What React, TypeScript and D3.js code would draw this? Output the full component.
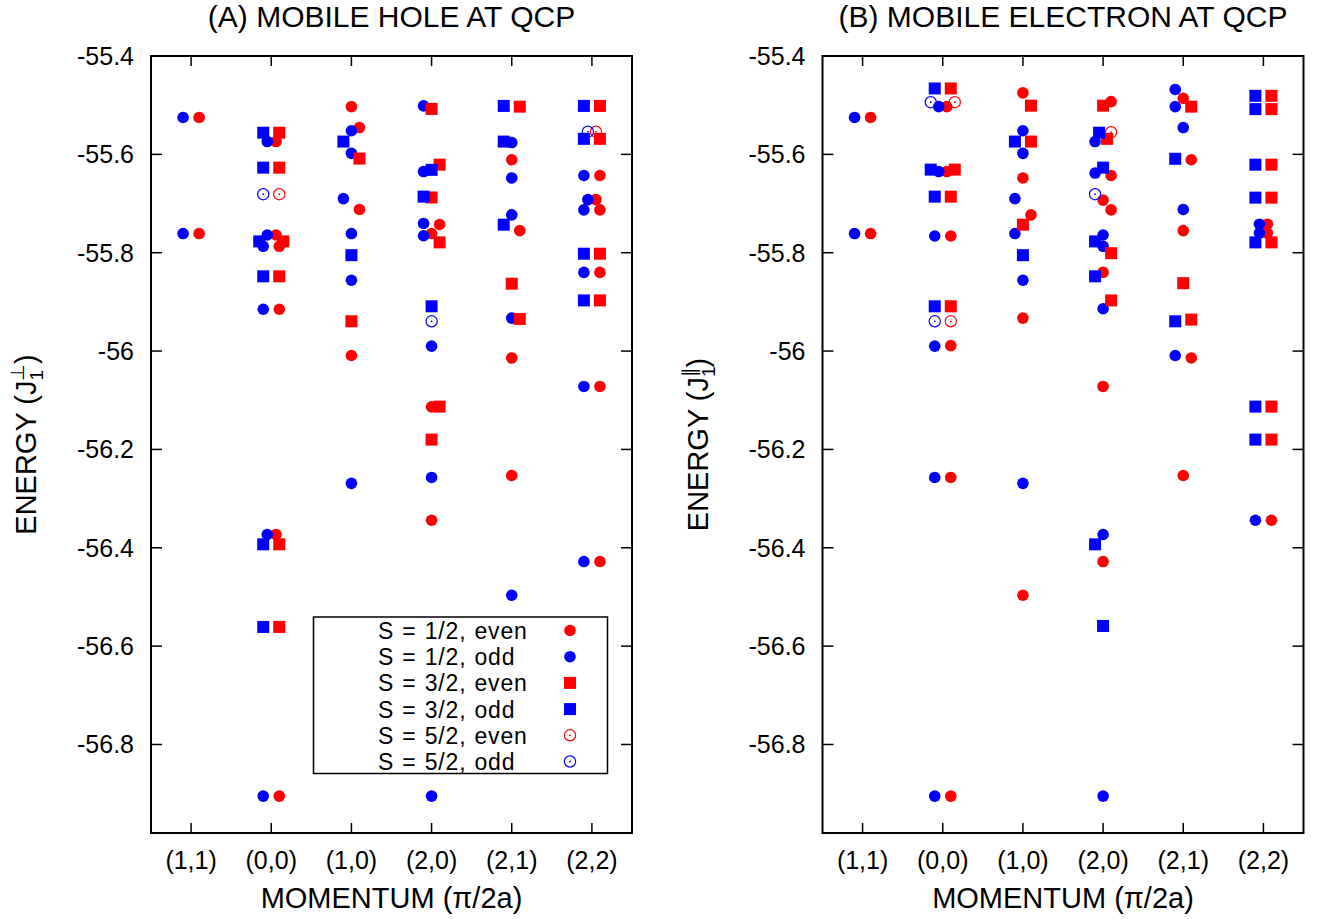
import React, { useEffect, useRef } from "react";
import * as d3 from "d3";

const categories = ["(1,1)", "(0,0)", "(1,0)", "(2,0)", "(2,1)", "(2,2)"];
const yTicks = [-55.4, -55.6, -55.8, -56, -56.2, -56.4, -56.6, -56.8];
const yTickLabels = ["-55.4", "-55.6", "-55.8", "-56", "-56.2", "-56.4", "-56.6", "-56.8"];
const seriesLabels = ["S = 1/2, even", "S = 1/2, odd", "S = 3/2, even", "S = 3/2, odd", "S = 5/2, even", "S = 5/2, odd"];
const seriesColors = ["#ff0000", "#0000ff", "#ff0000", "#0000ff", "#ff0000", "#0000ff"];
const seriesShapes = ["circle", "circle", "square", "square", "open", "open"];

// (A) mobile hole: [momentum position, energy]
const holeHalfEven = [
  [1.1, -55.525], [1.1, -55.761],
  [2.06, -55.574], [2.06, -55.764], [2.1, -55.787], [2.1, -55.915], [2.06, -56.373], [2.1, -56.905],
  [3, -55.503], [3.1, -55.5455], [3.1, -55.712], [3, -56.009],
  [4.1, -55.7425], [4, -55.761], [4, -56.1134], [4, -56.344],
  [5, -55.611], [5.1, -55.755], [5, -56.014], [5, -56.253],
  [6.1, -55.643], [6.05, -55.692], [6.1, -55.713], [6.1, -55.84], [6.1, -56.072], [6.1, -56.428],
];
const holeHalfOdd = [
  [0.9, -55.525], [0.9, -55.761],
  [1.95, -55.574], [1.95, -55.764], [1.9, -55.787], [1.9, -55.915], [1.95, -56.373], [1.9, -56.905],
  [3, -55.552], [3, -55.598], [2.9, -55.69], [3, -55.761], [3, -55.856], [3, -56.269],
  [3.9, -55.5015], [3.9, -55.635], [3.9, -55.7405], [3.9, -55.7655], [4, -55.99], [4, -56.257], [4, -56.905],
  [5, -55.576], [5, -55.648], [5, -55.723], [5, -55.933], [5, -56.4965],
  [5.9, -55.643], [5.95, -55.692], [5.9, -55.713], [5.9, -55.84], [5.9, -56.072], [5.9, -56.428],
];
const holeThreeEven = [
  [2.1, -55.556], [2.1, -55.627], [2.15, -55.777], [2.1, -55.848], [2.1, -56.393], [2.1, -56.561],
  [3.1, -55.6085], [3, -55.9395],
  [4, -55.5076], [4.1, -55.621], [4, -55.6877], [4.1, -55.779], [4.1, -56.113], [4, -56.18],
  [5.1, -55.503], [5, -55.863], [5.1, -55.9347],
  [6.1, -55.5015], [6.1, -55.5685], [6.1, -55.802], [6.1, -55.897],
];
const holeThreeOdd = [
  [1.9, -55.556], [1.9, -55.627], [1.85, -55.777], [1.9, -55.848], [1.9, -56.393], [1.9, -56.561],
  [2.9, -55.574], [3, -55.805],
  [4, -55.6315], [3.9, -55.686], [4, -55.909],
  [4.9, -55.5015], [4.9, -55.574], [4.9, -55.743],
  [5.9, -55.5015], [5.9, -55.5685], [5.9, -55.802], [5.9, -55.897],
];
const holeFiveEven = [[2.1, -55.681], [6.05, -55.554]];
const holeFiveOdd = [[1.9, -55.681], [4, -55.9395], [5.95, -55.554]];

// (B) mobile electron
const elecHalfEven = [
  [1.1, -55.525], [1.1, -55.761],
  [2.05, -55.503], [2.05, -55.635], [2.1, -55.766], [2.1, -55.989], [2.1, -56.257], [2.1, -56.905],
  [3, -55.475], [3, -55.648], [3.1, -55.723], [3, -55.933], [3, -56.4965],
  [4.1, -55.4927], [4.1, -55.643], [4, -55.693], [4.1, -55.713], [4, -55.84], [4, -56.072], [4, -56.428],
  [5, -55.486], [5.1, -55.611], [5, -55.755], [5.1, -56.014], [5, -56.253],
  [6.05, -55.742], [6.05, -55.76], [6.1, -56.344],
];
const elecHalfOdd = [
  [0.9, -55.525], [0.9, -55.761],
  [1.95, -55.503], [1.95, -55.635], [1.9, -55.766], [1.9, -55.99], [1.9, -56.257], [1.9, -56.905],
  [3, -55.552], [3, -55.598], [2.9, -55.69], [2.9, -55.761], [3, -55.856], [3, -56.269],
  [3.9, -55.574], [3.9, -55.638], [4, -55.764], [4, -55.787], [4, -55.914], [4, -56.373], [4, -56.905],
  [4.9, -55.468], [4.9, -55.503], [5, -55.5455], [5, -55.712], [4.9, -56.009],
  [5.95, -55.742], [5.95, -55.76], [5.9, -56.344],
];
const elecThreeEven = [
  [2.1, -55.466], [2.15, -55.631], [2.1, -55.686], [2.1, -55.909],
  [3.1, -55.501], [3.1, -55.574], [3, -55.743],
  [4, -55.501], [4.05, -55.5685], [4.1, -55.801], [4.1, -55.897],
  [5.1, -55.503], [5, -55.862], [5.1, -55.936],
  [6.1, -55.481], [6.1, -55.508], [6.1, -55.621], [6.1, -55.688], [6.1, -55.779], [6.1, -56.113], [6.1, -56.18],
];
const elecThreeOdd = [
  [1.9, -55.466], [1.85, -55.631], [1.9, -55.686], [1.9, -55.909],
  [2.9, -55.574], [3, -55.805],
  [3.95, -55.556], [4, -55.627], [3.9, -55.777], [3.9, -55.848], [3.9, -56.393], [4, -56.559],
  [4.9, -55.609], [4.9, -55.9395],
  [5.9, -55.481], [5.9, -55.508], [5.9, -55.621], [5.9, -55.688], [5.9, -55.779], [5.9, -56.113], [5.9, -56.18],
];
const elecFiveEven = [[2.15, -55.494], [2.1, -55.9395], [4.1, -55.555]];
const elecFiveOdd = [[1.85, -55.494], [1.9, -55.9395], [3.9, -55.681]];

const FONT = "'Liberation Sans', Arial, Helvetica, sans-serif";

function drawMarker(g, shape, color, cx, cy) {
  if (shape === "circle") {
    g.append("circle").attr("cx", cx).attr("cy", cy).attr("r", 5.8).attr("fill", color);
  } else if (shape === "square") {
    g.append("rect").attr("x", cx - 6).attr("y", cy - 6).attr("width", 12).attr("height", 12).attr("fill", color);
  } else {
    g.append("circle").attr("cx", cx).attr("cy", cy).attr("r", 5.6)
      .attr("fill", "none").attr("stroke", color).attr("stroke-width", 1.2);
    g.append("circle").attr("cx", cx).attr("cy", cy).attr("r", 0.9).attr("fill", color);
  }
}

function drawPanel(svg, left, title, sup, series, withLegend) {
  const width = 481, top = 56, bottom = 833;
  const x = d3.scaleLinear().domain([0.5, 6.5]).range([left, left + width]);
  const y = d3.scaleLinear().domain([-56.98, -55.4]).range([bottom, top]);
  const g = svg.append("g").style("font-family", FONT);

  // points
  series.forEach((pts, i) => {
    pts.forEach(([px, py]) => drawMarker(g, seriesShapes[i], seriesColors[i], x(px), y(py)));
  });

  // ticks (inner, mirrored)
  yTicks.forEach((t, i) => {
    g.append("line").attr("x1", left).attr("x2", left + 11).attr("y1", y(t)).attr("y2", y(t))
      .attr("stroke", "#000").attr("stroke-width", 1.5);
    g.append("line").attr("x1", left + width - 11).attr("x2", left + width).attr("y1", y(t)).attr("y2", y(t))
      .attr("stroke", "#000").attr("stroke-width", 1.5);
    g.append("text").attr("x", left - 17).attr("y", y(t) + 9).attr("text-anchor", "end")
      .style("font-size", "25px").text(yTickLabels[i]);
  });
  categories.forEach((c, i) => {
    const cx = x(i + 1);
    g.append("line").attr("x1", cx).attr("x2", cx).attr("y1", bottom).attr("y2", bottom - 10)
      .attr("stroke", "#000").attr("stroke-width", 1.5);
    g.append("line").attr("x1", cx).attr("x2", cx).attr("y1", top).attr("y2", top + 10)
      .attr("stroke", "#000").attr("stroke-width", 1.5);
    g.append("text").attr("x", cx).attr("y", 869).attr("text-anchor", "middle")
      .style("font-size", "25px").text(c);
  });

  // frame
  g.append("rect").attr("x", left).attr("y", top).attr("width", width).attr("height", bottom - top)
    .attr("fill", "none").attr("stroke", "#000").attr("stroke-width", 2);

  // titles
  const cx = left + width / 2;
  g.append("text").attr("x", cx).attr("y", 27).attr("text-anchor", "middle")
    .style("font-size", "30px").text(title);
  g.append("text").attr("x", cx).attr("y", 908).attr("text-anchor", "middle")
    .style("font-size", "29px").text("MOMENTUM (\u03c0/2a)");

  const yl = g.append("text")
    .attr("transform", `translate(${left - 115},${(top + bottom) / 2}) rotate(-90)`)
    .attr("text-anchor", "middle").style("font-size", "29px");
  yl.append("tspan").text("ENERGY (J");
  yl.append("tspan").attr("dy", 7).style("font-size", "19px").text("1");
  yl.append("tspan").attr("dx", -11).attr("dy", -19).style("font-size", "19px").text(sup);
  yl.append("tspan").attr("dy", 12).text(")");

  if (withLegend) {
    const lg = g.append("g");
    lg.append("rect").attr("x", 313.5).attr("y", 617).attr("width", 294).attr("height", 156.5)
      .attr("fill", "#fff").attr("stroke", "#000").attr("stroke-width", 1.5);
    seriesLabels.forEach((lab, i) => {
      const ry = 630.5 + i * 26.2;
      lg.append("text").attr("x", 378).attr("y", ry + 8.5)
        .style("font-size", "23px").style("letter-spacing", "0.8px").style("word-spacing", "1px").text(lab);
      drawMarker(lg, seriesShapes[i], seriesColors[i], 570, ry);
    });
  }
}

const App = () => {
  const ref = useRef(null);

  useEffect(() => {
    if (ref.current) {
      const svg = d3.select(ref.current);
      svg.selectAll("*").remove();
      svg.append("rect").attr("width", 1320).attr("height", 919).attr("fill", "#fff");
      drawPanel(svg, 151, "(A) MOBILE HOLE AT QCP", "\u22a5",
        [holeHalfEven, holeHalfOdd, holeThreeEven, holeThreeOdd, holeFiveEven, holeFiveOdd], true);
      drawPanel(svg, 822.5, "(B) MOBILE ELECTRON AT QCP", "\u2225",
        [elecHalfEven, elecHalfOdd, elecThreeEven, elecThreeOdd, elecFiveEven, elecFiveOdd], false);
    }
  }, [ref]);

  return (
    <svg ref={ref} width={1320} height={919} style={{ position: "absolute", left: 0, top: 0 }}></svg>
  );
};

export default App;
